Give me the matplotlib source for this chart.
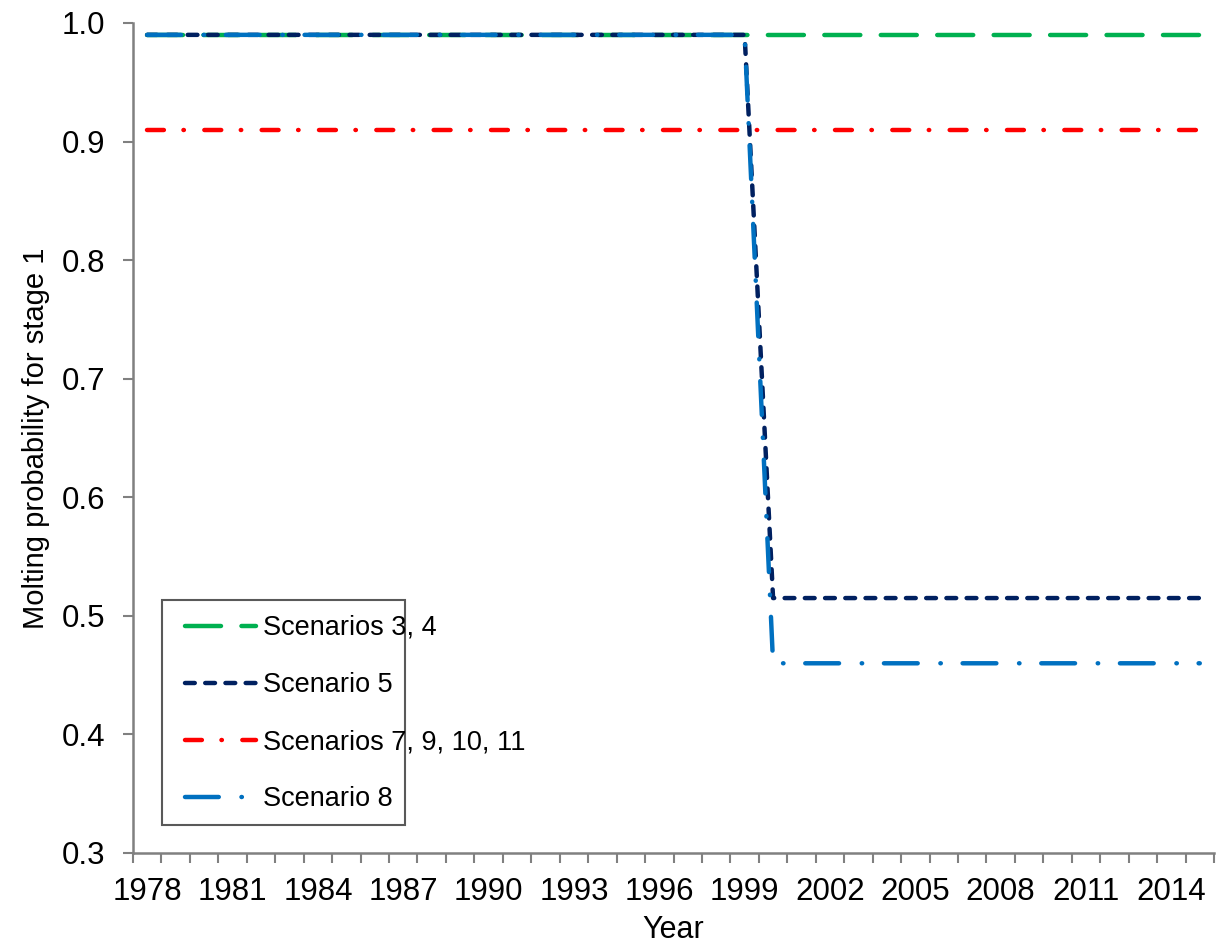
import matplotlib
matplotlib.use("Agg")
import matplotlib.pyplot as plt
from matplotlib.patches import Rectangle

years = [1978, 1979, 1980, 1981, 1982, 1983, 1984, 1985, 1986, 1987,
         1988, 1989, 1990, 1991, 1992, 1993, 1994, 1995, 1996, 1997,
         1998, 1999, 2000, 2001, 2002, 2003, 2004, 2005, 2006, 2007,
         2008, 2009, 2010, 2011, 2012, 2013, 2014, 2015]

scen_3_4 = [0.99, 0.99, 0.99, 0.99, 0.99, 0.99, 0.99, 0.99, 0.99, 0.99,
            0.99, 0.99, 0.99, 0.99, 0.99, 0.99, 0.99, 0.99, 0.99, 0.99,
            0.99, 0.99, 0.99, 0.99, 0.99, 0.99, 0.99, 0.99, 0.99, 0.99,
            0.99, 0.99, 0.99, 0.99, 0.99, 0.99, 0.99, 0.99]
scen_5 = [0.99, 0.99, 0.99, 0.99, 0.99, 0.99, 0.99, 0.99, 0.99, 0.99,
          0.99, 0.99, 0.99, 0.99, 0.99, 0.99, 0.99, 0.99, 0.99, 0.99,
          0.99, 0.99, 0.515, 0.515, 0.515, 0.515, 0.515, 0.515, 0.515, 0.515,
          0.515, 0.515, 0.515, 0.515, 0.515, 0.515, 0.515, 0.515]
scen_7_9_10_11 = [0.91, 0.91, 0.91, 0.91, 0.91, 0.91, 0.91, 0.91, 0.91, 0.91,
                  0.91, 0.91, 0.91, 0.91, 0.91, 0.91, 0.91, 0.91, 0.91, 0.91,
                  0.91, 0.91, 0.91, 0.91, 0.91, 0.91, 0.91, 0.91, 0.91, 0.91,
                  0.91, 0.91, 0.91, 0.91, 0.91, 0.91, 0.91, 0.91]
scen_8 = [0.99, 0.99, 0.99, 0.99, 0.99, 0.99, 0.99, 0.99, 0.99, 0.99,
          0.99, 0.99, 0.99, 0.99, 0.99, 0.99, 0.99, 0.99, 0.99, 0.99,
          0.99, 0.99, 0.46, 0.46, 0.46, 0.46, 0.46, 0.46, 0.46, 0.46,
          0.46, 0.46, 0.46, 0.46, 0.46, 0.46, 0.46, 0.46]

labels = ["Scenarios 3, 4", "Scenario 5", "Scenarios 7, 9, 10, 11", "Scenario 8"]
xtick_years = [1978, 1981, 1984, 1987, 1990, 1993, 1996, 1999, 2002, 2005, 2008, 2011, 2014]
yticks = [0.3, 0.4, 0.5, 0.6, 0.7, 0.8, 0.9, 1.0]

plt.rcParams['font.family'] = ['Liberation Sans', 'DejaVu Sans']

W, H = 1222, 949
fig = plt.figure(figsize=(W / 100, H / 100), dpi=100)
ax = fig.add_axes([133 / W, 1 - 853 / H, (1214 - 133) / W, (853 - 23) / H])

lw = 3.2
styles = [
    dict(color="#00B050", linestyle=(0, (8.1, 4.6))),
    dict(color="#002060", linestyle=(0, (2.2, 2.35))),
    dict(color="#FF0000", linestyle=(0, (3.8, 4.4, 0.1, 4.6))),
    dict(color="#0070C0", linestyle=(0, (7.6, 5.1, 0.1, 4.9))),
]
series = [scen_3_4, scen_5, scen_7_9_10_11, scen_8]
for vals, lab, st in zip(series, labels, styles):
    ax.plot(years, vals, label=lab, linewidth=lw, dash_capstyle='round',
            solid_capstyle='round', **st)

ax.set_xlim(years[0] - 0.5, years[-1] + 0.5)
ax.set_ylim(0.3, 1.0)

spine_color = "#808080"
for s in ["top", "right"]:
    ax.spines[s].set_visible(False)
for s in ["left", "bottom"]:
    ax.spines[s].set_color(spine_color)
    ax.spines[s].set_linewidth(1.8)

boundaries = [y - 0.5 for y in years] + [years[-1] + 0.5]
ax.set_xticks(boundaries)
ax.set_xticklabels([""] * len(boundaries))
ax.set_xticks(xtick_years, minor=True)
ax.set_xticklabels([str(y) for y in xtick_years], minor=True)
ax.tick_params(axis='x', which='major', length=7, width=1.5, color=spine_color, direction='out')
ax.tick_params(axis='x', which='minor', length=0, pad=17, labelsize=22.5)

ax.set_yticks(yticks)
ax.set_yticklabels([f"{v:.1f}" for v in yticks])
ax.tick_params(axis='y', length=7, width=1.5, color=spine_color, direction='out', pad=13, labelsize=22.5)

ax.set_xlabel("Year", fontsize=22, labelpad=6)
ax.set_ylabel("Molting probability for stage 1", fontsize=21, labelpad=8)

# legend frame (text overflows it, as in the reference)
frame = Rectangle((162 / W, 1 - 825 / H), (405 - 162) / W, (825 - 600) / H,
                  transform=fig.transFigure, fill=True, facecolor='white',
                  edgecolor="#595959", linewidth=1.5, zorder=4, clip_on=False)
ax.add_patch(frame)
leg = ax.legend(loc='upper left', bbox_to_anchor=(185 / W, 1 - 615 / H),
                bbox_transform=fig.transFigure, borderaxespad=0, borderpad=0,
                fontsize=19.5, handlelength=2.62, handletextpad=0.26,
                labelspacing=1.15, frameon=False)
leg.set_zorder(5)

fig.savefig("out.png", dpi=100)
